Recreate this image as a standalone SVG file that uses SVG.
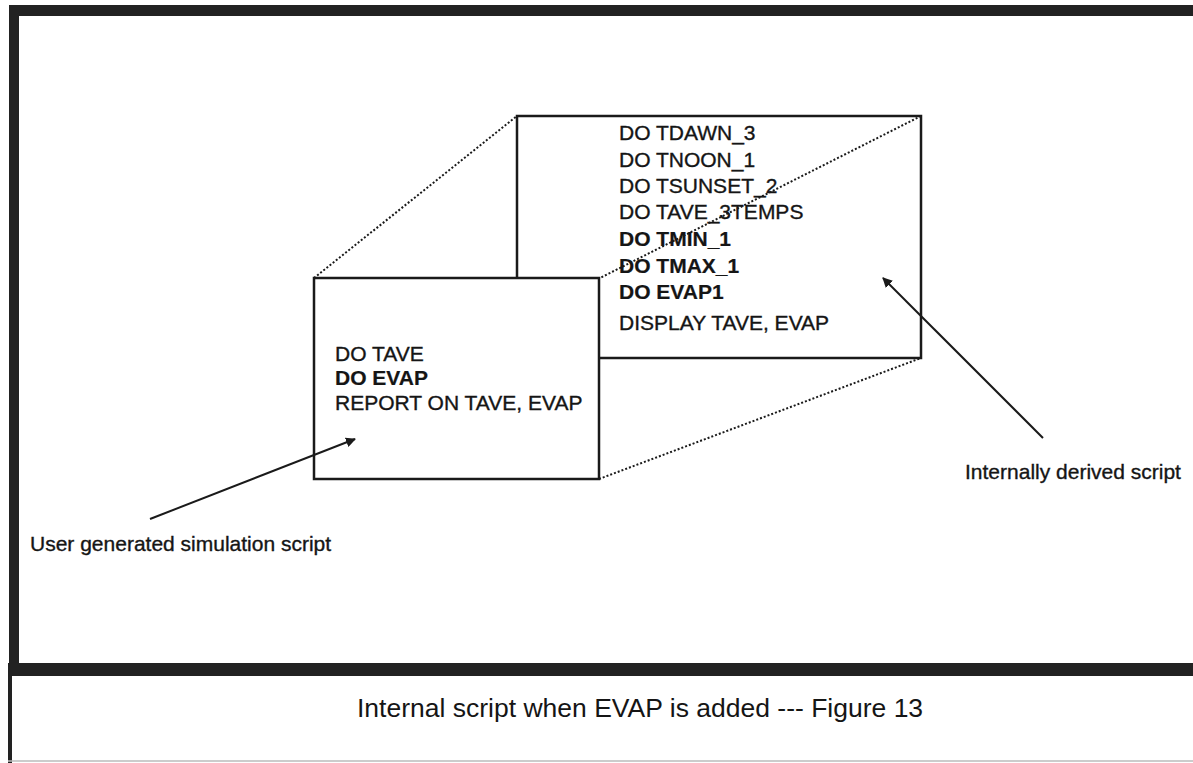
<svg xmlns="http://www.w3.org/2000/svg" width="1193" height="763" viewBox="0 0 1193 763">
  <defs>
    <marker id="ah" viewBox="0 0 10 10" refX="9" refY="5" markerWidth="5" markerHeight="5" orient="auto" markerUnits="strokeWidth">
      <path d="M0,0 L10,5 L0,10 Z" fill="#1a1a1a"/>
    </marker>
    <style>
      .t { font-family: "Liberation Sans", Arial, Helvetica, sans-serif; font-size: 21px; fill: #151515; stroke: #151515; stroke-width: 0.35; }
      .b { font-weight: bold; stroke-width: 0.2; }
      .cap { stroke-width: 0; font-size: 26.5px; }
      .box { fill: #ffffff; stroke: #1a1a1a; stroke-width: 2.5; }
      .dot { fill: none; stroke: #1a1a1a; stroke-width: 2; stroke-dasharray: 2 2; }
      .arr { fill: none; stroke: #1a1a1a; stroke-width: 2; marker-end: url(#ah); }
      .frame { fill: #222222; }
    </style>
  </defs>
  <rect x="0" y="0" width="1193" height="763" fill="#ffffff"/>

  <g id="frame">
    <rect class="frame" x="9" y="5" width="1184" height="11"/>
    <rect class="frame" x="9" y="5" width="10" height="670"/>
    <rect class="frame" x="9" y="663" width="1184" height="13"/>
    <rect class="frame" x="8" y="663" width="4" height="100"/>
    <line x1="8" y1="761" x2="1193" y2="761" stroke="#bbbbbb" stroke-width="1.5"/>
  </g>

  <g id="internal-script">
    <path class="box" d="M517,278 L517,116 L921,116 L921,358 L599,358"/>
    <text class="t" x="619" y="140">DO TDAWN_3</text>
    <text class="t" x="619" y="167">DO TNOON_1</text>
    <text class="t" x="619" y="193">DO TSUNSET_2</text>
    <text class="t" x="619" y="219">DO TAVE_3TEMPS</text>
    <text class="t b" x="619" y="246">DO TMIN_1</text>
    <text class="t b" x="619" y="273">DO TMAX_1</text>
    <text class="t b" x="619" y="299">DO EVAP1</text>
    <text class="t" x="619" y="330">DISPLAY TAVE, EVAP</text>
  </g>

  <g id="user-script">
    <rect class="box" x="314" y="278" width="285" height="201"/>
    <text class="t" x="335" y="361">DO TAVE</text>
    <text class="t b" x="335" y="385">DO EVAP</text>
    <text class="t" x="335" y="410">REPORT ON TAVE, EVAP</text>
  </g>

  <g id="connectors">
    <line class="dot" x1="314" y1="278" x2="517" y2="116"/>
    <line class="dot" x1="921" y1="116" x2="600" y2="278"/>
    <line class="dot" x1="599" y1="479" x2="921" y2="358"/>
    <line class="arr" x1="150" y1="519" x2="355" y2="439"/>
    <line class="arr" x1="1043" y1="438" x2="883" y2="278"/>
  </g>

  <g id="label-user">
    <text class="t" x="30" y="551">User generated simulation script</text>
  </g>
  <g id="label-internal">
    <text class="t" x="965" y="479">Internally derived script</text>
  </g>

  <g id="caption">
    <text class="t cap" x="357" y="717">Internal script when EVAP is added --- Figure 13</text>
  </g>
</svg>
